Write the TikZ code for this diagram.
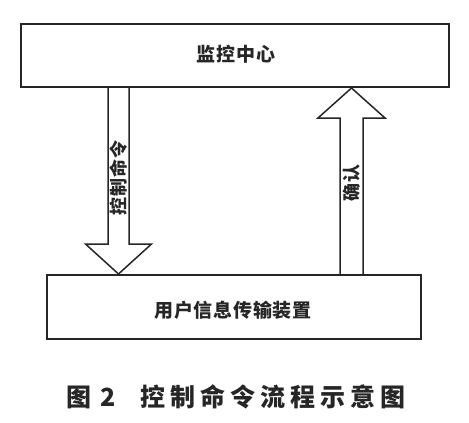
\documentclass[tikz,border=0pt]{standalone}
\usepackage{fontspec}
\newfontfamily\cjk[LetterSpace=4]{Noto Sans CJK SC}
\newfontfamily\cjkcap[LetterSpace=20]{Noto Sans CJK SC}
\begin{document}
\begin{tikzpicture}[x=1pt,y=-1pt,
  box/.style={draw=black!85,line width=2pt,inner sep=0pt},
  blockarrow/.style={draw=black!85,line width=1.5pt,fill=white,line join=miter},
  boxtext/.style={font=\cjk\bfseries\fontsize{19}{19}\selectfont,text=black!85},
  arrowtext/.style={font=\cjk\bfseries\fontsize{18}{18}\selectfont,text=black!85,rotate=90}]
\useasboundingbox (0,0) rectangle (469,423);
% arrows (drawn first, boxes over them)
\draw[blockarrow] (108,87) -- (108,244) -- (85.5,244) -- (118.5,274) -- (151.5,244) -- (129,244) -- (129,87);
\draw[blockarrow] (340,275) -- (340,118) -- (318,118) -- (351.5,88) -- (385,118) -- (363,118) -- (363,275);
% boxes
\node[box,minimum width=428pt,minimum height=63pt] (top) at (234.5,55.5) {};
\node[box,minimum width=374pt,minimum height=64pt] (bot) at (234,307) {};
\node[boxtext] (toplabel) at (236,54) {监控中心};
\node[boxtext] (botlabel) at (233,310) {用户信息传输装置};
\node[arrowtext] (cmd) at (118.5,178) {控制命令};
\node[arrowtext] (ack) at (352,183) {确认};
\node[font=\cjkcap\bfseries\fontsize{25}{25}\selectfont,text=black!85] (cap) at (236,397) {图\hspace*{9pt}2\hspace*{24pt}控制命令流程示意图};
\end{tikzpicture}
\end{document}
